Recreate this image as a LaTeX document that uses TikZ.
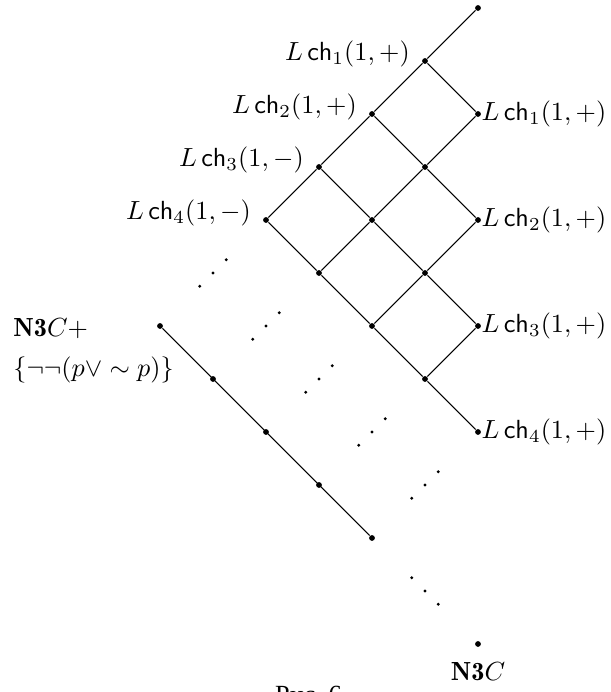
\documentclass[tikz,border=0pt]{standalone}
\usepackage{amsmath,amssymb}
\usepackage{fontspec}
\usepackage{tikz}
\newfontfamily\cyrfont{Liberation Serif}

\begin{document}
\begin{tikzpicture}[x=0.711cm, y=0.711cm,
    pt/.style={circle, fill, inner sep=0pt, minimum size=2.2pt},
    spot/.style={circle, fill, inner sep=0pt, minimum size=1.2pt},
    lftlab/.style={anchor=base east, xshift=-2.3pt},
    rgtlab/.style={anchor=west, inner sep=1.2pt}]
    \useasboundingbox (-9.019,0.151) rectangle (2.491,-12.906);

    % upper lattice
    \node[pt] (top) at (0,0) {};
    \node[pt] (l1) at (-1,-1) {};
    \node[pt] (l2) at (-2,-2) {};
    \node[pt] (l3) at (-3,-3) {};
    \node[pt] (l4) at (-4,-4) {};
    \node[pt] (r1) at (0,-2) {};
    \node[pt] (r2) at (0,-4) {};
    \node[pt] (r3) at (0,-6) {};
    \node[pt] (r4) at (0,-8) {};
    \node[pt] (c1) at (-1,-3) {};
    \node[pt] (c2) at (-2,-4) {};
    \node[pt] (c3) at (-1,-5) {};
    \node[pt] (c4) at (-3,-5) {};
    \node[pt] (c5) at (-2,-6) {};
    \node[pt] (c6) at (-1,-7) {};

    \draw (top) -- (l1) -- (l2) -- (l3) -- (l4);
    \draw (l1) -- (r1) -- (c1) -- (c2) -- (c4);
    \draw (l2) -- (c1) -- (r2) -- (c3) -- (c5);
    \draw (l3) -- (c2) -- (c3) -- (r3) -- (c6);
    \draw (l4) -- (c4) -- (c5) -- (c6) -- (r4);

    % labels of the lattice
    \node[lftlab] (tl1) at (l1) {$L\,\mathsf{ch}_1(1,+)$};
    \node[lftlab] (tl2) at (l2) {$L\,\mathsf{ch}_2(1,+)$};
    \node[lftlab] (tl3) at (l3) {$L\,\mathsf{ch}_3(1,-)$};
    \node[lftlab] (tl4) at (l4) {$L\,\mathsf{ch}_4(1,-)$};
    \node[rgtlab] (tr1) at (r1) {$L\,\mathsf{ch}_1(1,+)$};
    \node[rgtlab] (tr2) at (r2) {$L\,\mathsf{ch}_2(1,+)$};
    \node[rgtlab] (tr3) at (r3) {$L\,\mathsf{ch}_3(1,+)$};
    \node[rgtlab] (tr4) at (r4) {$L\,\mathsf{ch}_4(1,+)$};

    % lower chain
    \foreach \i in {0,...,4}
        \node[pt] (n\i) at (-6+\i,-6-\i) {};
    \draw (n0) -- (n4);
    \node[anchor=base west] (nplus) at (-8.94,-6.20) {$\mathbf{N3}C+$};
    \node[anchor=base west] (nset) at (-8.94,-6.955) {$\{\neg\neg(p\vee\sim p)\}$};

    % dots between
    \foreach \k in {0,...,4} {
        \node[spot] at (-5.25+\k,-5.25-\k) {};
        \node[spot] at (-5+\k,-5-\k) {};
        \node[spot] at (-4.75+\k,-4.75-\k) {};
    }
    \node[spot] at (-1.25,-10.75) {};
    \node[spot] at (-1,-11) {};
    \node[spot] at (-0.75,-11.25) {};

    \node[pt] (bot) at (0,-12) {};
    \node[below=3.5pt] (n3c) at (bot) {$\mathbf{N3}C$};

    \node[anchor=base] (cap) at (-3.2,-13.13) {\cyrfont Рис.~6};
\end{tikzpicture}
\end{document}
